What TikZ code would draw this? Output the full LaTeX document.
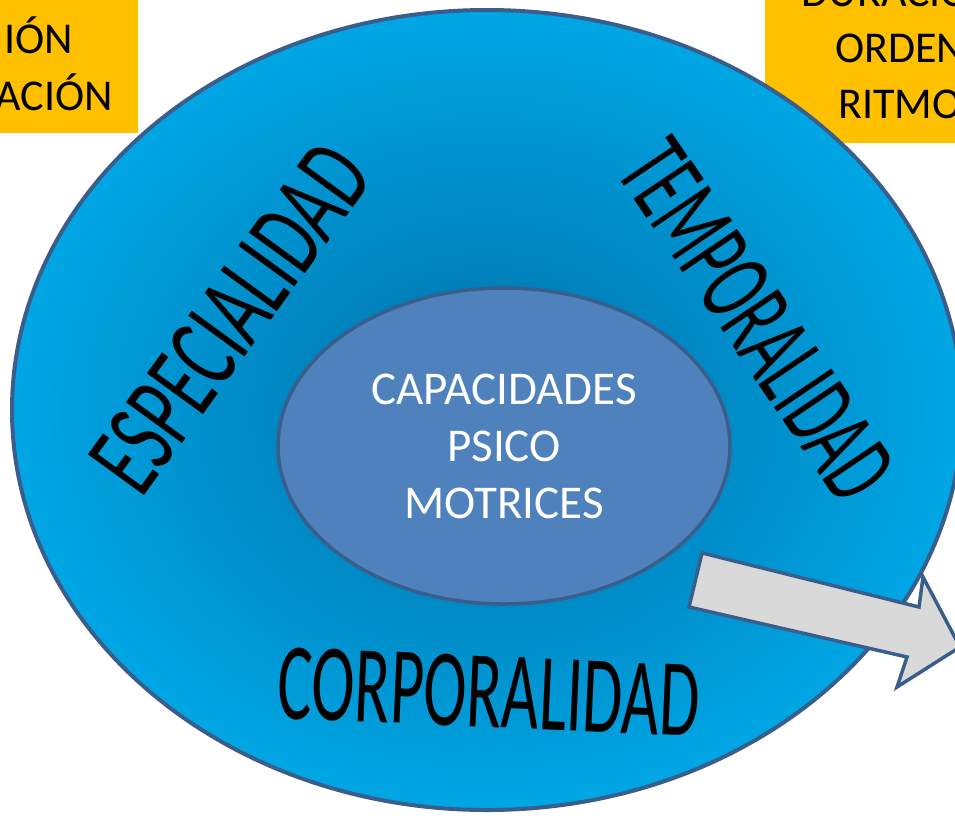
\documentclass[tikz,border=0pt]{standalone}
\usepackage{fontspec}
\setmainfont{Carlito}
\usetikzlibrary{shapes.geometric}
\definecolor{yel}{RGB}{255,192,0}
\definecolor{bin}{RGB}{0,124,182}
\definecolor{bout}{RGB}{0,166,229}
\definecolor{edgeblue}{RGB}{58,94,140}
\definecolor{corefill}{RGB}{79,129,189}
\definecolor{arrowfill}{RGB}{217,217,217}
\pgfdeclareradialshading{outerglow}{\pgfpointorigin}{color(0bp)=(bin); color(6bp)=(bin); color(25bp)=(bout); color(50bp)=(bout)}
\tikzset{
  outerell/.style={ellipse, draw=edgeblue, line width=4pt, shading=outerglow, minimum width=950pt, minimum height=800pt, inner sep=0pt},
  innerell/.style={ellipse, draw=edgeblue, line width=3.5pt, fill=corefill, minimum width=452pt, minimum height=316pt, inner sep=0pt, align=center, text=white, font=\fontsize{47}{57}\selectfont},
  bigword/.style={inner sep=0pt, text=black},
  yeltext/.style={inner sep=0pt, text=black, font=\fontsize{44}{56}\selectfont},
  blockarrow/.style={draw=edgeblue, line width=3.5pt, fill=arrowfill, line join=miter}
}
\begin{document}
\begin{tikzpicture}[x=1pt,y=-1pt]
\useasboundingbox (0,0) rectangle (955,815);
\clip (0,0) rectangle (955,815);
% yellow boxes
\fill[yel] (-150,-20) rectangle (138,133);
\fill[yel] (765,-20) rectangle (1040,143);
\node[yeltext, anchor=base east] (l1) at (73,53) {IÓN};
\node[yeltext, anchor=base east] (l2) at (113,110) {ACIÓN};
\node[yeltext, anchor=base] (r0) at (900,6) {DURACIÓN};
\node[yeltext, anchor=base] (r1) at (900,62) {ORDEN};
\node[yeltext, anchor=base] (r2) at (900,118) {RITMO};
% outer ellipse
\node[outerell] (outer) at (487,410) {};
% inner ellipse
\node[innerell] (core) at (504,446) {CAPACIDADES\\PSICO\\MOTRICES};
% big words
\node[bigword, rotate=54, font=\fontsize{108}{110}\selectfont] (esp) at (230,318) {\scalebox{0.64}[1]{ESPECIALIDAD}};
\node[bigword, rotate=-56, font=\fontsize{108}{110}\selectfont] (tem) at (757,320) {\scalebox{0.57}[1]{TEMPORALIDAD}};
\node[bigword, rotate=-2.5, font=\fontsize{110}{112}\selectfont] (cor) at (489,692) {\scalebox{0.59}[1]{CORPORALIDAD}};
% block arrow
\draw[blockarrow] (702,553) -- (919,607) -- (923,577) -- (960,647) -- (897,687) -- (907,657) -- (689,607) -- cycle;
\end{tikzpicture}
\end{document}
